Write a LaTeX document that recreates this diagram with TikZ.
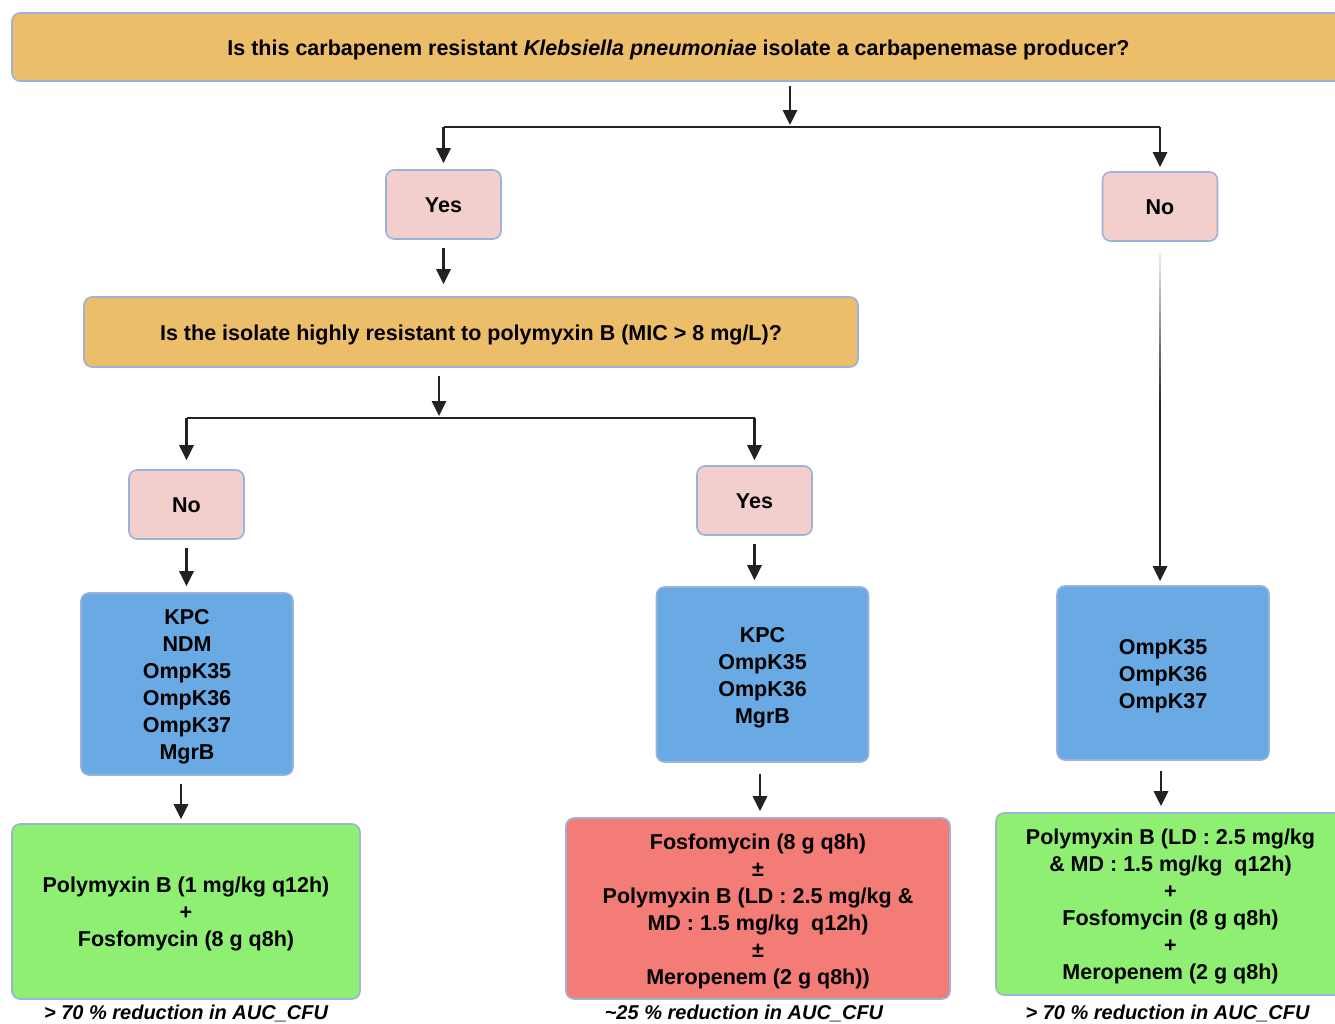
\documentclass[tikz,border=0pt]{standalone}
\usepackage{fontspec}
\setmainfont{Liberation Sans}
\usepackage{tikz}
\usetikzlibrary{arrows.meta,positioning,fadings}
\definecolor{qorange}{HTML}{EDBE69}
\definecolor{edgeblue}{HTML}{9DB1DB}
\definecolor{anspink}{HTML}{F2CECD}
\definecolor{geneblue}{HTML}{6AAAE4}
\definecolor{regreen}{HTML}{8EEF73}
\definecolor{regred}{HTML}{F37C77}
\definecolor{arrowgray}{HTML}{222222}
\tikzfading[name=fadetop, top color=transparent!0, bottom color=transparent!100]
\newcommand{\boxtext}[1]{\raisebox{-3pt}[\height][\depth]{\begin{tabular}{@{}c@{}}#1\end{tabular}}}

\begin{document}
\begin{tikzpicture}[x=1pt, y=-1pt,
  every node/.style={font=\bfseries\fontsize{21.5}{27}\selectfont, align=center, text=black},
  box/.style={draw=edgeblue, line width=1.6pt, rounded corners=8pt, inner sep=0pt},
  qbox/.style={box, fill=qorange},
  ansbox/.style={box, fill=anspink, minimum width=115, minimum height=69},
  genebox/.style={box, fill=geneblue, minimum width=212},
  regbox/.style={box, fill=regreen},
  regbad/.style={box, fill=regred},
  note/.style={font=\bfseries\itshape\fontsize{20}{24}\selectfont, inner sep=1pt},
  arr/.style={-{Triangle[length=15pt, width=14pt]}, line width=2.8pt, color=arrowgray, shorten <=8pt, shorten >=6pt},
  bar/.style={line width=2.8pt, color=arrowgray}
]
\useasboundingbox (0,0) rectangle (1335,1023);

% first question
\node[qbox, minimum width=1333, minimum height=68] (q1) at (678.5,47) {\boxtext{Is this carbapenem resistant \textit{Klebsiella pneumoniae} isolate a carbapenemase producer?}};
\node[ansbox] (yes1) at (443.5,204.5) {\boxtext{Yes}};
\node[ansbox] (no1) at (1160,206.5) {\boxtext{No}};
\coordinate (s1) at (790,127);
\draw[arr, shorten <=4pt, shorten >=2pt] (q1.south -| s1) -- (s1);
\draw[bar] (yes1 |- s1) -- (no1 |- s1);
\draw[arr, shorten <=0pt] (yes1 |- s1) -- (yes1.north);
\draw[arr, shorten <=0pt, shorten >=4pt] (no1 |- s1) -- (no1.north);

% second question
\node[qbox, minimum width=774, minimum height=70] (q2) at (471,332) {\boxtext{Is the isolate highly resistant to polymyxin B (MIC > 8 mg/L)?}};
\draw[arr, shorten >=12pt] (yes1) -- (yes1 |- q2.north);
\node[ansbox] (no2) at (186.5,504.5) {\boxtext{No}};
\node[ansbox] (yes2) at (754.5,500.5) {\boxtext{Yes}};
\coordinate (s2) at (439,418);
\draw[arr, shorten >=2pt] (q2.south -| s2) -- (s2);
\draw[bar] (no2 |- s2) -- (yes2 |- s2);
\draw[arr, shorten <=0pt, shorten >=9pt] (no2 |- s2) -- (no2.north);
\draw[arr, shorten <=0pt, shorten >=5pt] (yes2 |- s2) -- (yes2.north);

% genes
\node[genebox, minimum height=182] (gL) at (187,684) {\boxtext{KPC\\NDM\\OmpK35\\OmpK36\\OmpK37\\MgrB}};
\node[genebox, minimum height=175] (gM) at (762.5,674.5) {\boxtext{KPC\\OmpK35\\OmpK36\\MgrB}};
\node[genebox, minimum height=174] (gR) at (1163,673) {\boxtext{OmpK35\\OmpK36\\OmpK37}};
\draw[arr] (no2) -- (no2 |- gL.north);
\draw[arr] (yes2) -- (yes2 |- gM.north);
\draw[arr, shorten <=9pt, shorten >=4pt] (no1) -- (no1 |- gR.north);
\fill[white, path fading=fadetop] (1152,242) rectangle (1168,410);

% regimens
\node[regbox, minimum width=348, minimum height=175] (rL) at (186,911.5) {\boxtext{Polymyxin B (1 mg/kg q12h)\\+\\Fosfomycin (8 g q8h)}};
\node[regbad, minimum width=384, minimum height=181] (rM) at (758,908.5) {\boxtext{Fosfomycin (8 g q8h)\\±\\Polymyxin B (LD : 2.5 mg/kg \&\\MD : 1.5 mg/kg~ q12h)\\±\\Meropenem (2 g q8h))}};
\node[regbox, minimum width=349, minimum height=182] (rR) at (1170.5,904) {\boxtext{Polymyxin B (LD : 2.5 mg/kg\\\& MD : 1.5 mg/kg~ q12h)\\+\\Fosfomycin (8 g q8h)\\+\\Meropenem (2 g q8h)}};
\draw[arr, shorten >=4pt] (gL.south -| 181,0) -- (rL.north -| 181,0);
\draw[arr, shorten <=11pt] (gM.south -| 760,0) -- (rM.north -| 760,0);
\draw[arr, shorten <=10pt] (gR.south -| 1161,0) -- (rR.north -| 1161,0);

% outcomes
\node[note, below=4pt of rL] (oL) {> 70 \% reduction in AUC\_CFU};
\node[note, below=4pt of rM, xshift=-14pt] (oM) {\textasciitilde 25 \% reduction in AUC\_CFU};
\node[note, below=8pt of rR, xshift=-3pt] (oR) {> 70 \% reduction in AUC\_CFU};
\end{tikzpicture}
\end{document}
